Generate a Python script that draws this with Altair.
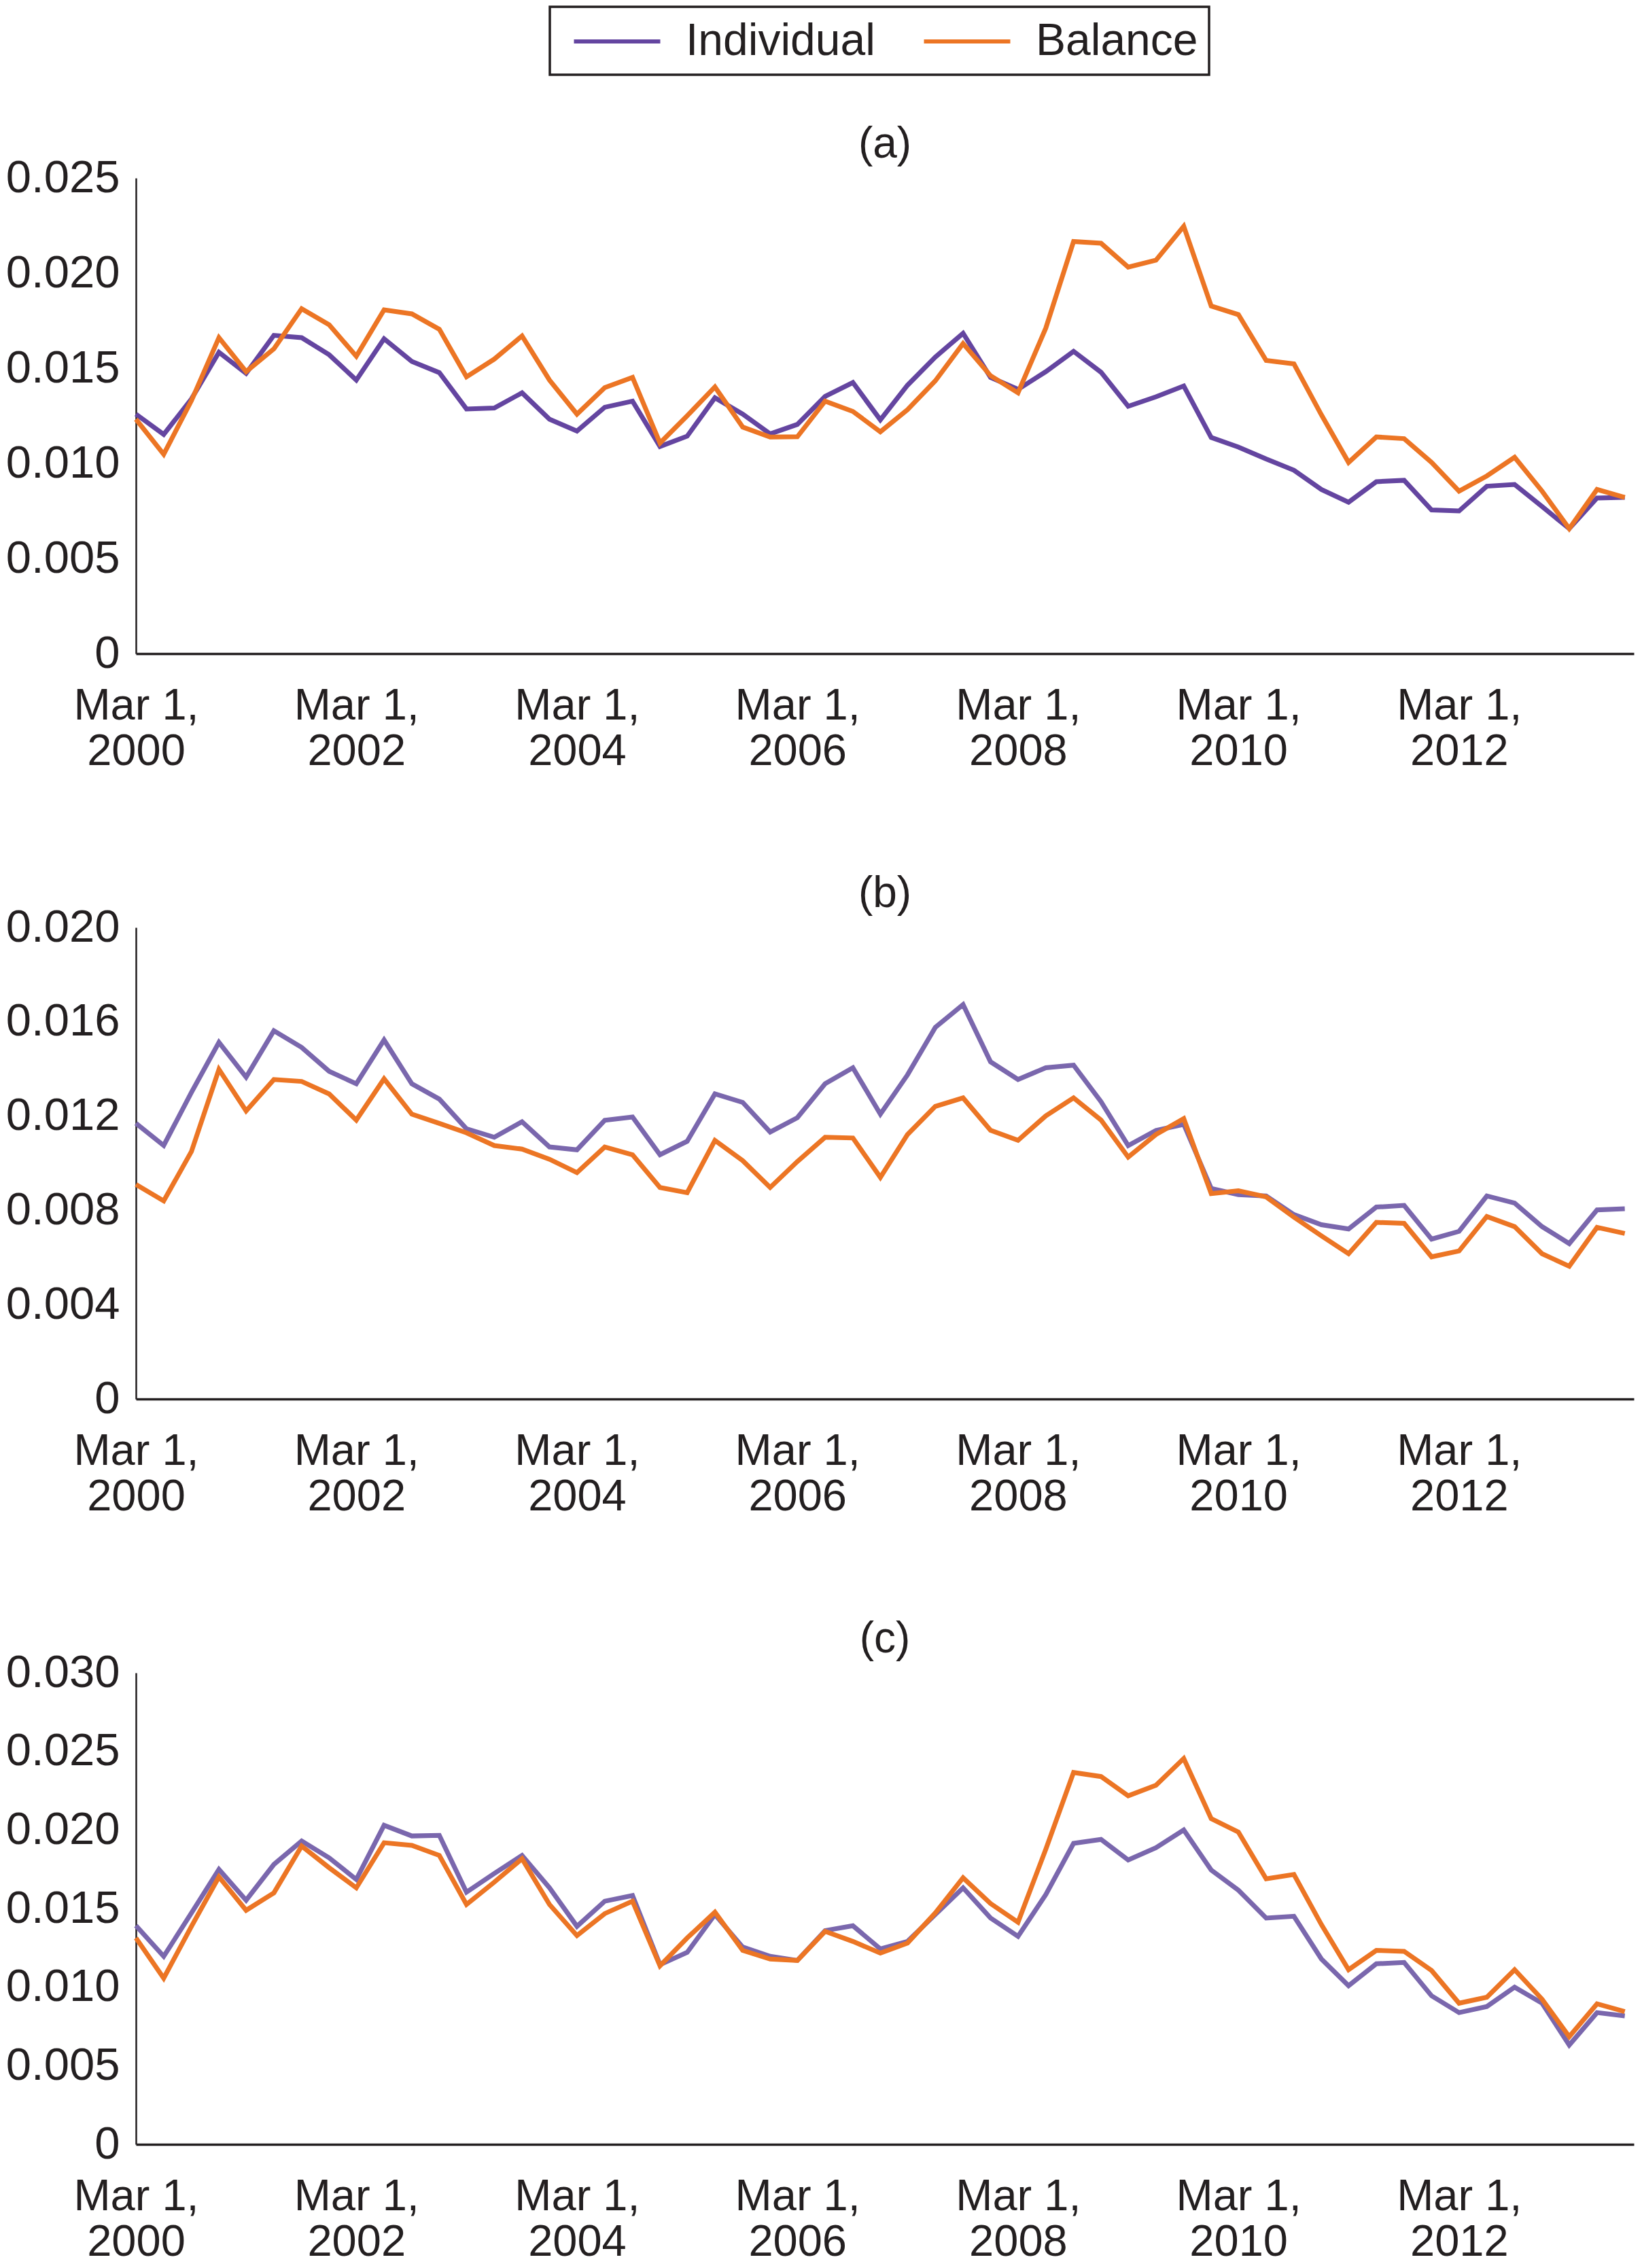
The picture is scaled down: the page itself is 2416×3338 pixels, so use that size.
import altair as alt
import pandas as pd

# quarterly observation dates (Mar 2000 .. Sep 2013)
dates = [d.strftime("%Y-%m-%d") for d in pd.date_range("2000-03-01", periods=55, freq="3MS")]
series_names = ["Individual", "Balance"]
tick_years = [2000, 2002, 2004, 2006, 2008, 2010, 2012]

a_ind = [0.01259, 0.01152, 0.01339, 0.01584, 0.01473, 0.01673, 0.01661, 0.01571, 0.01438, 0.01655,
         0.01536, 0.01477, 0.01286, 0.01291, 0.01371, 0.01232, 0.01170, 0.01295, 0.01327, 0.01089,
         0.01143, 0.01345, 0.01259, 0.01155, 0.01205, 0.01352, 0.01425, 0.01229, 0.01411, 0.01559,
         0.01684, 0.01452, 0.01389, 0.01482, 0.01589, 0.01479, 0.01300, 0.01350, 0.01407, 0.01136,
         0.01086, 0.01023, 0.00964, 0.00863, 0.00796, 0.00904, 0.00911, 0.00755, 0.00750, 0.00880,
         0.00889, 0.00773, 0.00657, 0.00818, 0.00821]
a_bal = [0.01232, 0.01048, 0.01330, 0.01661, 0.01482, 0.01602, 0.01813, 0.01729, 0.01563, 0.01807,
         0.01786, 0.01705, 0.01455, 0.01548, 0.01670, 0.01438, 0.01259, 0.01398, 0.01452, 0.01107,
         0.01250, 0.01402, 0.01191, 0.01138, 0.01140, 0.01327, 0.01273, 0.01166, 0.01282, 0.01434,
         0.01630, 0.01461, 0.01371, 0.01711, 0.02166, 0.02157, 0.02032, 0.02068, 0.02246, 0.01827,
         0.01782, 0.01541, 0.01523, 0.01255, 0.01005, 0.01139, 0.01130, 0.01005, 0.00854, 0.00934,
         0.01032, 0.00854, 0.00657, 0.00863, 0.00821]

b_ind = [0.01169, 0.01075, 0.01301, 0.01513, 0.01365, 0.01562, 0.01491, 0.01390, 0.01337, 0.01523,
         0.01337, 0.01272, 0.01146, 0.01110, 0.01176, 0.01069, 0.01057, 0.01182, 0.01196, 0.01036,
         0.01093, 0.01294, 0.01258, 0.01132, 0.01193, 0.01337, 0.01405, 0.01208, 0.01375, 0.01576,
         0.01673, 0.01430, 0.01355, 0.01405, 0.01416, 0.01261, 0.01075, 0.01139, 0.01165, 0.00893,
         0.00867, 0.00861, 0.00782, 0.00739, 0.00721, 0.00814, 0.00821, 0.00678, 0.00711, 0.00861,
         0.00831, 0.00731, 0.00659, 0.00802, 0.00807]
b_bal = [0.00910, 0.00840, 0.01050, 0.01398, 0.01222, 0.01355, 0.01347, 0.01294, 0.01183, 0.01358,
         0.01208, 0.01169, 0.01129, 0.01075, 0.01060, 0.01017, 0.00960, 0.01069, 0.01036, 0.00897,
         0.00875, 0.01097, 0.01011, 0.00897, 0.01007, 0.01110, 0.01107, 0.00940, 0.01122, 0.01241,
         0.01277, 0.01140, 0.01097, 0.01201, 0.01277, 0.01183, 0.01026, 0.01122, 0.01189, 0.00871,
         0.00883, 0.00857, 0.00771, 0.00692, 0.00616, 0.00749, 0.00745, 0.00603, 0.00628, 0.00774,
         0.00731, 0.00616, 0.00563, 0.00728, 0.00702]

c_ind = [0.01391, 0.01196, 0.01472, 0.01749, 0.01553, 0.01781, 0.01930, 0.01823, 0.01685, 0.02030,
         0.01962, 0.01966, 0.01604, 0.01723, 0.01838, 0.01632, 0.01387, 0.01547, 0.01583, 0.01143,
         0.01221, 0.01462, 0.01255, 0.01196, 0.01170, 0.01360, 0.01391, 0.01243, 0.01291, 0.01462,
         0.01632, 0.01440, 0.01323, 0.01589, 0.01915, 0.01940, 0.01809, 0.01887, 0.02000, 0.01745,
         0.01617, 0.01440, 0.01451, 0.01179, 0.01009, 0.01149, 0.01157, 0.00945, 0.00838, 0.00877,
         0.01000, 0.00898, 0.00632, 0.00838, 0.00817]
c_bal = [0.01313, 0.01057, 0.01387, 0.01702, 0.01489, 0.01600, 0.01898, 0.01760, 0.01632, 0.01919,
         0.01902, 0.01838, 0.01526, 0.01668, 0.01817, 0.01526, 0.01328, 0.01468, 0.01547, 0.01136,
         0.01313, 0.01477, 0.01234, 0.01179, 0.01170, 0.01355, 0.01291, 0.01217, 0.01281, 0.01472,
         0.01696, 0.01532, 0.01413, 0.01877, 0.02366, 0.02340, 0.02217, 0.02285, 0.02455, 0.02072,
         0.01987, 0.01689, 0.01717, 0.01398, 0.01111, 0.01234, 0.01228, 0.01106, 0.00898, 0.00936,
         0.01111, 0.00923, 0.00685, 0.00894, 0.00845]

a_ticks = [0, 0.005, 0.010, 0.015, 0.020, 0.025]
b_ticks = [0, 0.004, 0.008, 0.012, 0.016, 0.020]
c_ticks = [0, 0.005, 0.010, 0.015, 0.020, 0.025, 0.030]

PURPLE_DARK = "#6445a0"
PURPLE_LIGHT = "#7a67ad"
ORANGE = "#ec7524"
INK = "#231f20"
FONT = "Liberation Sans"


def panel(ind, bal, ticks, title, height, with_legend):
    df = pd.DataFrame({
        "date": dates + dates,
        "series": [series_names[0]] * len(dates) + [series_names[1]] * len(dates),
        "value": ind + bal,
    })
    if with_legend:
        color = alt.Color(
            "series:N",
            scale=alt.Scale(domain=series_names, range=[PURPLE_DARK, ORANGE]),
            legend=alt.Legend(title=None, orient="none", direction="horizontal",
                              legendX=609, legendY=-252,
                              symbolType="M-2,0H2", symbolStrokeWidth=6,
                              symbolSize=4032, symbolOffset=48,
                              labelFontSize=66, labelFont=FONT, labelLimit=0,
                              labelColor=INK, strokeColor=INK, padding=16,
                              columnPadding=52, labelOffset=66))
    else:
        color = alt.condition(alt.datum.series == series_names[0],
                              alt.value(PURPLE_LIGHT), alt.value(ORANGE))
    return alt.Chart(df).mark_line(strokeWidth=7).encode(
        x=alt.X("date:T", title=None,
                scale=alt.Scale(type="utc",
                                domain=[alt.DateTime(year=2000, month=3, date=1, utc=True),
                                        alt.DateTime(year=2013, month=10, date=1, utc=True)]),
                axis=alt.Axis(values=[alt.DateTime(year=y, month=3, date=1, utc=True) for y in tick_years],
                              labelExpr="['Mar 1,', utcFormat(datum.value, '%Y')]",
                              ticks=False, grid=False, domainWidth=3.5, labelPadding=45,
                              labelLineHeight=67, labelBaseline="top", labelAlign="center",
                              labelOverlap=False, labelFlush=False, labelLimit=0,
                              labelFontSize=65)),
        y=alt.Y("value:Q", title=None,
                scale=alt.Scale(domain=[ticks[0], ticks[-1]], nice=False),
                axis=alt.Axis(values=ticks,
                              labelExpr="datum.value == 0 ? '0' : format(datum.value, '.3f')",
                              ticks=False, grid=False, domainWidth=2.5, labelPadding=24,
                              labelFontSize=67)),
        detail="series:N",
        color=color,
    ).properties(
        width=2204, height=height,
        title=alt.TitleParams(title, fontSize=64, font=FONT, fontWeight="normal",
                              color=INK, anchor="middle", offset=14, dy=31),
    )


chart = alt.vconcat(
    panel(a_ind, a_bal, a_ticks, "(a)", 700, True),
    panel(b_ind, b_bal, b_ticks, "(b)", 694, False),
    panel(c_ind, c_bal, c_ticks, "(c)", 694, False),
    spacing=146,
).properties(padding=0).configure_view(stroke=None).configure_axis(
    labelFont=FONT, labelColor=INK, domainColor=INK,
).configure_legend(strokeWidth=3.5)

chart.save("out.html", embed_options={"renderer": "svg", "actions": False})
